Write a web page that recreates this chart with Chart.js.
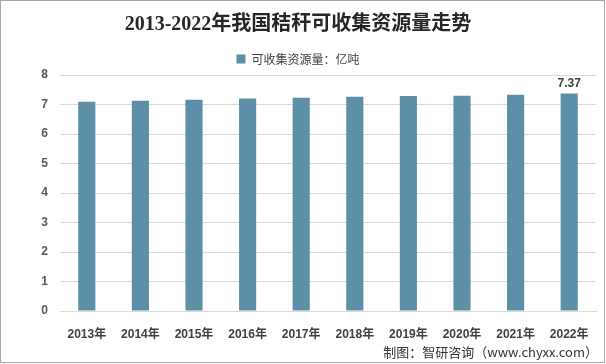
<!DOCTYPE html>
<html>
<head>
<meta charset="utf-8">
<script src="https://cdn.jsdelivr.net/npm/chart.js@4/dist/chart.umd.min.js"></script>
<style>
  html, body { margin: 0; padding: 0; background: #fff; }
  .wrapper { width: 606px; height: 364px; position: relative; }
</style>
</head>
<body>
<div class="wrapper">
  <canvas id="strawChart" width="606" height="364"></canvas>
</div>
<script>
var years = ['2013年', '2014年', '2015年', '2016年', '2017年', '2018年', '2019年', '2020年', '2021年', '2022年'];
var amounts = [7.09, 7.13, 7.16, 7.2, 7.23, 7.26, 7.29, 7.3, 7.33, 7.37];
var yTicks = [0, 1, 2, 3, 4, 5, 6, 7, 8];
var seriesName = '可收集资源量：亿吨';
var chartTitle = '2013-2022年我国秸秆可收集资源量走势';
var sourceNote = '制图：智研咨询（www.chyxx.com）';

// label only on the last bar, plus border and source line
var extras = {
    id: 'extras',
    afterDatasetsDraw: function(chart) {
        var ctx = chart.ctx;
        var meta = chart.getDatasetMeta(0);
        var last = meta.data[meta.data.length - 1];
        ctx.save();
        ctx.font = 'bold 12px "Liberation Sans", Arial, sans-serif';
        ctx.fillStyle = '#404040';
        ctx.textAlign = 'center';
        ctx.textBaseline = 'bottom';
        ctx.fillText(amounts[amounts.length - 1].toFixed(2), last.x, last.y - 4);
        ctx.restore();
    },
    afterDraw: function(chart) {
        var ctx = chart.ctx;
        ctx.save();
        ctx.font = '13px "Noto Sans CJK SC", sans-serif';
        ctx.fillStyle = '#333';
        ctx.textAlign = 'right';
        ctx.textBaseline = 'middle';
        ctx.fillText(sourceNote, 598, 352);
        ctx.strokeStyle = '#a6a6a6';
        ctx.lineWidth = 1;
        ctx.strokeRect(0.5, 0.5, chart.width - 2, chart.height - 2);
        ctx.restore();
    }
};

var ctx = document.getElementById('strawChart').getContext('2d');
var chart = new Chart(ctx, {
    type: 'bar',
    data: {
        labels: years,
        datasets: [{
            label: seriesName,
            data: amounts,
            backgroundColor: '#5d90a7',
            categoryPercentage: 1,
            barPercentage: 0.32
        }]
    },
    options: {
        responsive: false,
        animation: false,
        layout: { padding: { left: 0, right: 10, top: 0, bottom: 0 } },
        plugins: {
            title: {
                display: true,
                text: chartTitle,
                color: '#262626',
                font: { family: '"Liberation Serif", "Noto Sans CJK SC", serif', size: 20, weight: 'bold' },
                padding: { top: 13, bottom: 10 }
            },
            legend: {
                display: true,
                labels: {
                    color: '#404040',
                    font: { family: '"Noto Sans CJK SC", sans-serif', size: 12 },
                    boxWidth: 9,
                    boxHeight: 9,
                    padding: 6
                }
            },
            tooltip: { enabled: false }
        },
        scales: {
            x: {
                grid: { display: false },
                border: { color: '#d9d9d9' },
                ticks: {
                    color: '#404040',
                    font: { family: '"Liberation Sans", "Noto Sans CJK SC", sans-serif', size: 12, weight: 'bold' },
                    padding: 8,
                    maxRotation: 0
                },
                afterFit: function(scale) { scale.height = 53; }
            },
            y: {
                min: 0,
                max: 8,
                afterBuildTicks: function(scale) {
                    scale.ticks = yTicks.map(function(v) { return { value: v }; });
                },
                grid: { color: '#d9d9d9', drawTicks: false },
                border: { display: false },
                ticks: {
                    color: '#595959',
                    font: { family: '"Liberation Sans", sans-serif', size: 12, weight: 'bold' },
                    padding: 12
                },
                afterFit: function(scale) { scale.width = 60; }
            }
        }
    },
    plugins: [extras]
});
</script>
</body>
</html>
